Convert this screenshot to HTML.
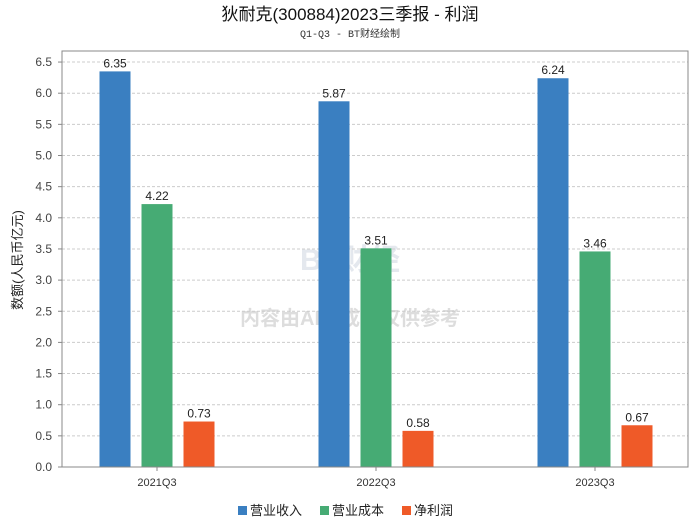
<!DOCTYPE html>
<html><head><meta charset="utf-8"><style>
body{margin:0;background:#fff;}
svg{display:block;font-family:"Liberation Sans","Noto Sans CJK SC",sans-serif;}
</style></head><body>
<svg id="c" width="700" height="524">
<text x="350" y="20" text-anchor="middle" font-size="17" fill="#111">狄耐克(300884)2023三季报 - 利润</text>
<text x="350" y="37" text-anchor="middle" font-size="10" fill="#333" font-family="Liberation Mono,monospace">Q1-Q3 - BT财经绘制</text>
<text x="350" y="325" text-anchor="middle" font-size="20" fill="#ddd" font-weight="bold">内容由AI生成，仅供参考</text>
<text x="350" y="270" text-anchor="middle" font-size="30" fill="#e4e8ee" font-weight="bold">BT财经</text>
<g id="grid"></g><g id="bars"></g>
<rect x="62" y="51" width="626" height="416" fill="none" stroke="#888"/>
<text transform="translate(22,260) rotate(-90)" text-anchor="middle" font-size="13" fill="#222">数额(人民币亿元)</text>
<g id="legend"></g>
</svg>
<script>
const categories=["2021Q3","2022Q3","2023Q3"];
const seriesNames=["营业收入","营业成本","净利润"];
const colors=["#3a7fc1","#46ab74","#ef5a28"];
const revenue=[6.35,5.87,6.24];
const cost=[4.22,3.51,3.46];
const profit=[0.73,0.58,0.67];
const yTicks=[0,0.5,1,1.5,2,2.5,3,3.5,4,4.5,5,5.5,6,6.5];
const ns="http://www.w3.org/2000/svg";
const y=v=>467-v*62.3;
const xc=i=>157+i*219;
function mk(t,a,p){const e=document.createElementNS(ns,t);for(const k in a)e.setAttribute(k,a[k]);p.appendChild(e);return e;}
const g=document.getElementById('grid');
yTicks.forEach(v=>{
 const l=mk('line',{x1:62,x2:688,y1:y(v),y2:y(v),stroke:'#ccc','stroke-dasharray':'3,2'},g);
 
 
 mk('line',{x1:58,x2:62,y1:y(v),y2:y(v),stroke:'#888'},g);
 const t=mk('text',{x:52,y:y(v)+4,'text-anchor':'end','font-size':12,fill:'#444'},g);t.textContent=v.toFixed(1);
 
 
});
const b=document.getElementById('bars');
const series=[revenue,cost,profit];
categories.forEach((c,i)=>{
 series.forEach((s,j)=>{
  const x=xc(i)+(j-1)*42-15.5;
  const r=mk('rect',{x:x,y:y(s[i]),width:31,height:467-y(s[i]),fill:colors[j]},b);
  
  
  const t=mk('text',{x:x+15.5,y:y(s[i])-4,'text-anchor':'middle','font-size':12,fill:'#222'},b);t.textContent=s[i].toFixed(2);
  
  
 });
 mk('line',{x1:xc(i),x2:xc(i),y1:467,y2:471,stroke:'#888'},b);
 const t=mk('text',{x:xc(i),y:486,'text-anchor':'middle','font-size':11,fill:'#333'},b);t.textContent=c;
 
 
});
const lg=document.getElementById('legend');
const lx=[238,320,402];
seriesNames.forEach((n,j)=>{
 const r=mk('rect',{x:lx[j],y:506,width:9,height:9,fill:colors[j]},lg);
 
 
 const t=mk('text',{x:lx[j]+12,y:515,'font-size':13,fill:'#222'},lg);t.textContent=n;
 
 
});
</script>
</body></html>
